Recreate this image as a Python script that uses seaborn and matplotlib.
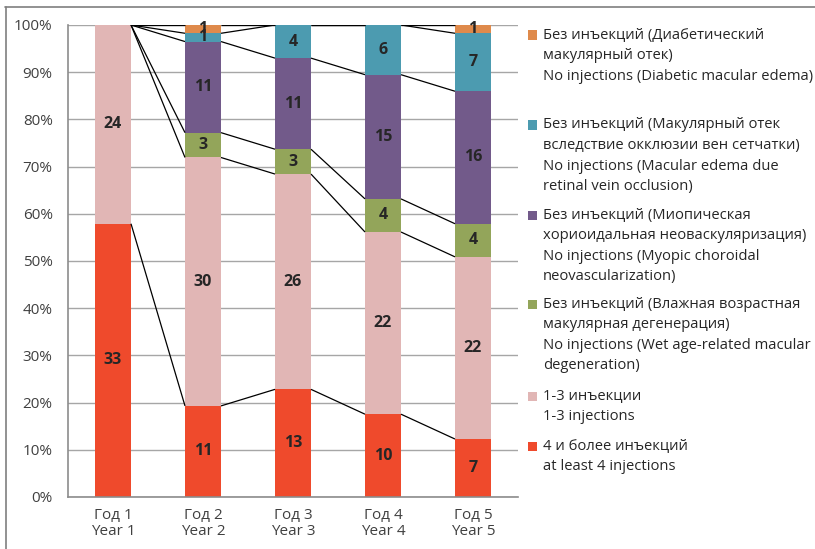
import matplotlib
matplotlib.use("Agg")
import matplotlib.pyplot as plt
from matplotlib.patches import Rectangle
from matplotlib.lines import Line2D
import numpy as np
import pandas as pd
import seaborn as sns

sns.set_theme(style="white")
plt.rcParams["font.family"] = ["Open Sans", "DejaVu Sans"]

years = ["Год 1\nYear 1", "Год 2\nYear 2", "Год 3\nYear 3", "Год 4\nYear 4", "Год 5\nYear 5"]

# patient counts per year, bottom series first
at_least_4 = [33, 11, 13, 10, 7]
one_to_three = [24, 30, 26, 22, 22]
none_wet_amd = [0, 3, 3, 4, 4]
none_myopic_cnv = [0, 11, 11, 15, 16]
none_rvo = [0, 1, 4, 6, 7]
none_dme = [0, 1, 0, 0, 1]

series = [at_least_4, one_to_three, none_wet_amd, none_myopic_cnv, none_rvo, none_dme]
colors = ["#EF4A2C", "#E1B6B5", "#93A55A", "#725A8A", "#4C9BB0", "#DF8A4B"]
legend_lines = [
    ["4 и более инъекций", "at least 4 injections"],
    ["1-3 инъекции", "1-3 injections"],
    ["Без инъекций (Влажная возрастная", "макулярная дегенерация)",
     "No injections (Wet age-related macular", "degeneration)"],
    ["Без инъекций (Миопическая", "хориоидальная неоваскуляризация)",
     "No injections (Myopic choroidal", "neovascularization)"],
    ["Без инъекций (Макулярный отек", "вследствие окклюзии вен сетчатки)",
     "No injections (Macular edema due", "retinal vein occlusion)"],
    ["Без инъекций (Диабетический", "макулярный отек)",
     "No injections (Diabetic macular edema)"],
]

counts = np.array(series, dtype=float)
totals = counts.sum(axis=0)
pct = counts / totals * 100
tops = np.cumsum(pct, axis=0)
bottoms = tops - pct

W, H = 815, 549
fig = plt.figure(figsize=(W / 100, H / 100), dpi=100)
ax = fig.add_axes([68 / W, 1 - 497 / H, 450 / W, 472 / H])

bar_w = 0.4
for k in range(len(series)):
    df = pd.DataFrame({"year": years, "pct": pct[k], "base": bottoms[k]})
    sns.barplot(data=df, x="year", y="pct", order=years, color=colors[k],
                saturation=1, width=bar_w, bottom=df["base"].values,
                linewidth=0, ax=ax, zorder=2)

# series lines joining segment tops between neighbouring bars
for k in range(len(series)):
    for i in range(len(years) - 1):
        ax.plot([i + bar_w / 2, i + 1 - bar_w / 2], [tops[k, i], tops[k, i + 1]],
                color="black", lw=0.9, zorder=3, solid_capstyle="butt")

# value labels
for k in range(len(series)):
    for i in range(len(years)):
        v = counts[k, i]
        if v > 0:
            ax.text(i, bottoms[k, i] + pct[k, i] / 2, f"{int(v)}", ha="center",
                    va="center", fontsize=11.5, fontweight="bold", color="#262626",
                    zorder=4)

ax.set_xlim(-0.5, len(years) - 0.5)
ax.set_ylim(0, 100)
ax.set_yticks(np.arange(0, 101, 10))
ax.set_yticklabels([f"{t}%" for t in range(0, 101, 10)])
ax.yaxis.grid(True, color="#A6A6A6", lw=1)
ax.set_axisbelow(True)
ax.set_xlabel("")
ax.set_ylabel("")
ax.set_xticks(range(len(years)))
ax.set_xticklabels(years, linespacing=1.05)
ax.set_xticks(np.arange(-0.5, len(years)), minor=True)
ax.tick_params(axis="x", which="major", length=0, pad=8, labelsize=11, labelcolor="#404040")
ax.tick_params(axis="x", which="minor", length=5, width=1, color="#8C8C8C", direction="out")
ax.tick_params(axis="y", length=5, width=1, color="#8C8C8C", direction="out", pad=6,
               labelsize=11, labelcolor="#404040")
for side in ["top", "right"]:
    ax.spines[side].set_visible(False)
for side in ["left", "bottom"]:
    ax.spines[side].set_visible(True)
    ax.spines[side].set_color("#8C8C8C")
    ax.spines[side].set_linewidth(1.2)

# legend, top entry first
first_line_y = [35, 125, 215, 304, 396, 446]
line_step = 20.6
for n, k in enumerate(reversed(range(len(series)))):
    y0 = first_line_y[n]
    fig.add_artist(Rectangle((528 / W, 1 - (y0 + 4.5) / H), 9 / W, 9 / H,
                             facecolor=colors[k], edgecolor="none",
                             transform=fig.transFigure))
    for j, line in enumerate(legend_lines[k]):
        fig.text(543 / W, 1 - (y0 + j * line_step) / H, line, ha="left", va="center",
                 fontsize=10.6, color="#262626")

# outer frame: top and left edges
fig.add_artist(Line2D([5 / W, 1], [1 - 7 / H, 1 - 7 / H], color="#7F7F7F", lw=1.2,
                      transform=fig.transFigure))
fig.add_artist(Line2D([6 / W, 6 / W], [0, 1 - 7 / H], color="#7F7F7F", lw=1.2,
                      transform=fig.transFigure))

fig.savefig("out.png", dpi=100)
